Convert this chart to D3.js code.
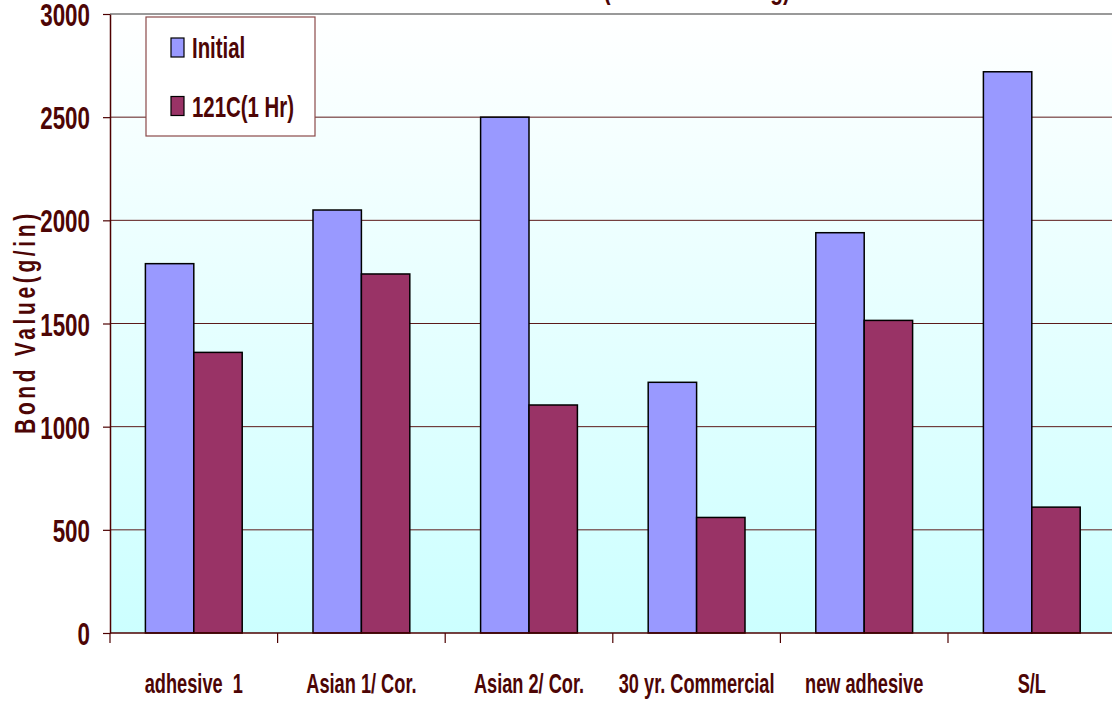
<!DOCTYPE html>
<html>
<head>
<meta charset="utf-8">
<script src="https://cdn.jsdelivr.net/npm/d3@7"></script>
<style>
  body { margin: 0; background: #ffffff; }
  svg { display: block; }
  text { white-space: pre; }
</style>
</head>
<body>
<svg id="chart" width="1112" height="702"></svg>
<script>
// Bond values per adhesive, before and after one hour at 121C
const categories = ["adhesive  1", "Asian 1/ Cor.", "Asian 2/ Cor.", "30 yr. Commercial", "new adhesive", "S/L"];
const seriesNames = ["Initial", "121C(1 Hr)"];
const initialValues = [1790, 2050, 2500, 1215, 1940, 2720];
const heatedValues = [1360, 1740, 1105, 560, 1515, 610];
const yTicks = [0, 500, 1000, 1500, 2000, 2500, 3000];
const titleText = "Bond Value (Initial vs. Heating)";
const yAxisTitle = "Bond Value(g/in)";

const seriesColors = { "Initial": "#9999ff", "121C(1 Hr)": "#993366" };
const textColor = "#4d0505";
const fontFamily = "'Liberation Sans', Arial, sans-serif";
const squeeze = 0.7;   // horizontal compression of all chart lettering

const rows = categories.map((c, i) => ({
  category: c,
  values: [
    { series: seriesNames[0], value: initialValues[i] },
    { series: seriesNames[1], value: heatedValues[i] }
  ]
}));

const svg = d3.select("#chart");
const plot = { left: 110, right: 1115.6, top: 14, bottom: 633 };

const x = d3.scaleBand()
  .domain(categories)
  .range([plot.left, plot.right])
  .paddingInner(0.4224)
  .paddingOuter(0.2112);
const xs = d3.scaleBand().domain(seriesNames).range([0, x.bandwidth()]);
const y = d3.scaleLinear().domain([0, 3000]).range([plot.bottom, plot.top]);

// plot area background: pale wash fading to cyan at the base
const defs = svg.append("defs");
const grad = defs.append("linearGradient")
  .attr("id", "plotBg").attr("x1", 0).attr("y1", 0).attr("x2", 0).attr("y2", 1);
grad.append("stop").attr("offset", "0%").attr("stop-color", "#ffffff");
grad.append("stop").attr("offset", "100%").attr("stop-color", "#ccffff");

svg.append("rect")
  .attr("x", plot.left).attr("y", plot.top)
  .attr("width", plot.right - plot.left).attr("height", plot.bottom - plot.top)
  .attr("fill", "url(#plotBg)");

// chart title (sits above the top edge of the frame)
svg.append("text")
  .attr("transform", `translate(790,-1) scale(${squeeze},1)`)
  .attr("text-anchor", "end")
  .attr("font-family", fontFamily).attr("font-weight", "bold")
  .attr("font-size", 30).attr("fill", textColor)
  .text(titleText);

// horizontal gridlines
svg.append("g").selectAll("line")
  .data(yTicks.filter(t => t > 0))
  .join("line")
  .attr("x1", plot.left).attr("x2", plot.right)
  .attr("y1", d => y(d)).attr("y2", d => y(d))
  .attr("stroke", d => d === 3000 ? "#999999" : "#5c1a1a")
  .attr("stroke-width", d => d === 3000 ? 2 : 1);

// bars
const groups = svg.append("g").selectAll("g")
  .data(rows)
  .join("g")
  .attr("transform", d => `translate(${x(d.category)},0)`);
groups.selectAll("rect")
  .data(d => d.values)
  .join("rect")
  .attr("x", d => xs(d.series))
  .attr("width", xs.bandwidth())
  .attr("y", d => y(d.value))
  .attr("height", d => y(0) - y(d.value))
  .attr("fill", d => seriesColors[d.series])
  .attr("stroke", "#000000")
  .attr("stroke-width", 1.5);

// category axis: baseline, boundary ticks and labels
const step = x.step();
const edge = c => x(c) - step * x.paddingInner() / 2;
svg.append("line")
  .attr("x1", plot.left).attr("x2", plot.right)
  .attr("y1", y(0)).attr("y2", y(0))
  .attr("stroke", "#4d0000").attr("stroke-width", 1.5);
svg.append("g").selectAll("line")
  .data(categories)
  .join("line")
  .attr("x1", d => edge(d)).attr("x2", d => edge(d))
  .attr("y1", y(0)).attr("y2", y(0) + 10)
  .attr("stroke", "#4d0000").attr("stroke-width", 1.2);
svg.append("g").selectAll("text")
  .data(categories)
  .join("text")
  .attr("transform", d => `translate(${x(d) + x.bandwidth() / 2},693) scale(0.65,1)`)
  .attr("text-anchor", "middle")
  .attr("font-family", fontFamily).attr("font-weight", "bold")
  .attr("font-size", 28).attr("fill", textColor)
  .text(d => d);

// value axis
const yAxis = svg.append("g")
  .attr("transform", `translate(${plot.left},0)`)
  .call(d3.axisLeft(y).tickValues(yTicks).tickSize(7).tickSizeOuter(0).tickFormat(d3.format("d")));
yAxis.select(".domain").attr("stroke", "#4d0000").attr("stroke-width", 1.5);
yAxis.selectAll(".tick line").attr("stroke", "#4d0000").attr("stroke-width", 1.2);
yAxis.selectAll(".tick text")
  .attr("x", null)
  .attr("dy", "0.36em")
  .attr("transform", `translate(-20,0) scale(${squeeze},1)`)
  .attr("font-family", fontFamily).attr("font-weight", "bold")
  .attr("font-size", 32).attr("fill", textColor);

// value axis title
svg.append("text")
  .attr("transform", `translate(35,322) rotate(-90) scale(${squeeze},1)`)
  .attr("text-anchor", "middle")
  .attr("font-family", fontFamily).attr("font-weight", "bold")
  .attr("font-size", 30).attr("letter-spacing", 5.2).attr("fill", textColor)
  .text(yAxisTitle);

// legend
const legend = svg.append("g");
legend.append("rect")
  .attr("x", 146).attr("y", 17).attr("width", 169).attr("height", 119)
  .attr("fill", "#ffffff").attr("stroke", "#8a4a4a").attr("stroke-width", 1.2);
const items = legend.selectAll("g.item")
  .data(seriesNames)
  .join("g")
  .attr("class", "item")
  .attr("transform", (d, i) => `translate(171,${38 + i * 58.5})`);
items.append("rect")
  .attr("width", 13).attr("height", 19)
  .attr("fill", d => seriesColors[d])
  .attr("stroke", "#000000").attr("stroke-width", 1.2);
items.append("text")
  .attr("transform", `translate(21,20) scale(0.68,1)`)
  .attr("font-family", fontFamily).attr("font-weight", "bold")
  .attr("font-size", 30).attr("fill", textColor)
  .text(d => d);
</script>
</body>
</html>
